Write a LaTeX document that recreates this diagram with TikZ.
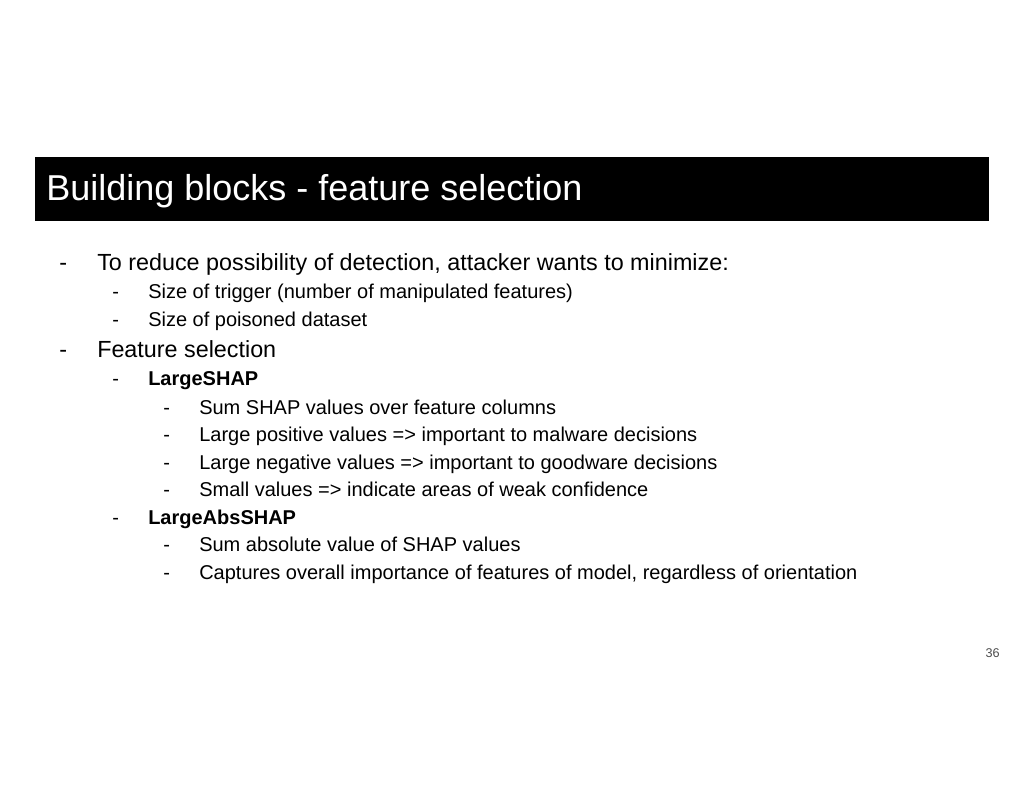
\documentclass[tikz,border=0pt]{standalone}
\usepackage{fontspec}
\setmainfont{Liberation Sans}
\usepackage{tikz}
\usetikzlibrary{positioning}

\begin{document}
\begin{tikzpicture}[x=0.75pt,y=-0.75pt,
  title node/.style={anchor=base west,inner sep=0pt,text=white,font=\fontsize{27}{32}\selectfont},
  one node/.style={anchor=base west,inner sep=0pt,font=\fontsize{17.5}{21}\selectfont},
  two node/.style={anchor=base west,inner sep=0pt,font=\fontsize{15}{18}\selectfont},
  three node/.style={anchor=base west,inner sep=0pt,font=\fontsize{15}{18}\selectfont}]

  \useasboundingbox (0,0) rectangle (1024,791);
  \fill (35,157) rectangle (989,221);
  \node[title node] (title) at (46,201) {Building blocks - feature selection};

  \node[one node] (d1) at (59,271) {-};
  \node[one node] (reduce) at (97,271) {To reduce possibility of detection, attacker wants to minimize:};
  \node[two node] (d2) at (112,299) {-};
  \node[two node] (trigger) at (148,299) {Size of trigger (number of manipulated features)};
  \node[two node] (d3) at (112,327) {-};
  \node[two node] (poison) at (148,327) {Size of poisoned dataset};
  \node[one node] (d4) at (59,358) {-};
  \node[one node] (select) at (97,358) {Feature selection};
  \node[two node] (d5) at (112,386) {-};
  \node[two node] (large) at (148,386) {\textbf{LargeSHAP}};
  \node[three node] (d6) at (163,414) {-};
  \node[three node] (sum) at (199,414) {Sum SHAP values over feature columns};
  \node[three node] (d7) at (163,441) {-};
  \node[three node] (pos) at (199,441) {Large positive values => important to malware decisions};
  \node[three node] (d8) at (163,469) {-};
  \node[three node] (neg) at (199,469) {Large negative values => important to goodware decisions};
  \node[three node] (d9) at (163,496) {-};
  \node[three node] (small) at (199,496) {Small values => indicate areas of weak confidence};
  \node[two node] (d10) at (112,524) {-};
  \node[two node] (abs) at (148,524) {\textbf{LargeAbsSHAP}};
  \node[three node] (d11) at (163,551) {-};
  \node[three node] (sumabs) at (199,551) {Sum absolute value of SHAP values};
  \node[three node] (d12) at (163,579) {-};
  \node[three node] (overall) at (199,579) {Captures overall importance of features of model, regardless of orientation};

  \node[anchor=east,inner sep=0pt,font=\fontsize{9.5}{11}\selectfont,text=black!70] (page) at (1000,653) {36};
\end{tikzpicture}
\end{document}
